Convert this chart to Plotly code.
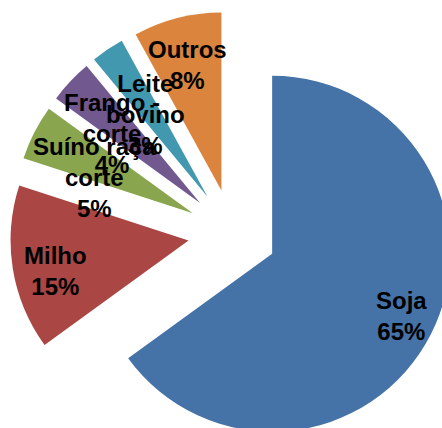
import math
import plotly.graph_objects as go

# ---- data ----
labels = ["Soja", "Milho", "Suíno raça<br>corte", "Frango -<br>corte", "Leite<br>bovino", "Outros"]
values = [65, 15, 5, 4, 3, 8]
colors = ["#4572A7", "#AA4643", "#89A54E", "#71588F", "#4198AF", "#DB843D"]

# ---- layout / style ----
PULL = 0.25
PLOT = 445          # square plot area (px)
ML, MT = 10, 11     # margins
label_radius = [1.054, 1.019, 0.835, 0.881, 0.828, 0.98]   # label distance from centre, in radii
label_angle_shift = [-1.0, -3.0, -4.7, -3.4, -2.2, -0.7]   # degrees, relative to slice bisector

fig = go.Figure(go.Pie(
    labels=labels,
    values=values,
    sort=False,
    direction="clockwise",
    rotation=0,
    pull=[PULL] * len(values),
    marker=dict(colors=colors, line=dict(width=0)),
    textinfo="none",
    hoverinfo="label+percent",
    showlegend=False,
))

# data labels placed along each slice bisector
total = sum(values)
r_paper = 1.0 / (2 * (1 + PULL))
cum = 0
annotations = []
for lab, v, k, da in zip(labels, values, label_radius, label_angle_shift):
    mid = (cum + v / 2) / total * 2 * math.pi + math.radians(da)
    cum += v
    pct = round(v / total * 100)
    annotations.append(dict(
        x=0.5 + k * r_paper * math.sin(mid),
        y=0.5 + k * r_paper * math.cos(mid),
        xref="paper", yref="paper",
        text=f"<b>{lab}<br>{pct}%</b>",
        showarrow=False,
        xanchor="center", yanchor="middle",
        font=dict(family="Liberation Sans, Arial", size=24, color="#000000"),
    ))

fig.update_layout(
    width=ML + PLOT,
    height=MT + PLOT,
    margin=dict(l=ML, t=MT, r=0, b=0, pad=0),
    paper_bgcolor="white",
    plot_bgcolor="white",
    annotations=annotations,
)

fig.write_html(
    "out.html",
    config={"displayModeBar": False},
    post_script="document.body.style.margin='0';document.body.style.overflow='hidden';"
                "document.documentElement.style.overflow='hidden';",
)
